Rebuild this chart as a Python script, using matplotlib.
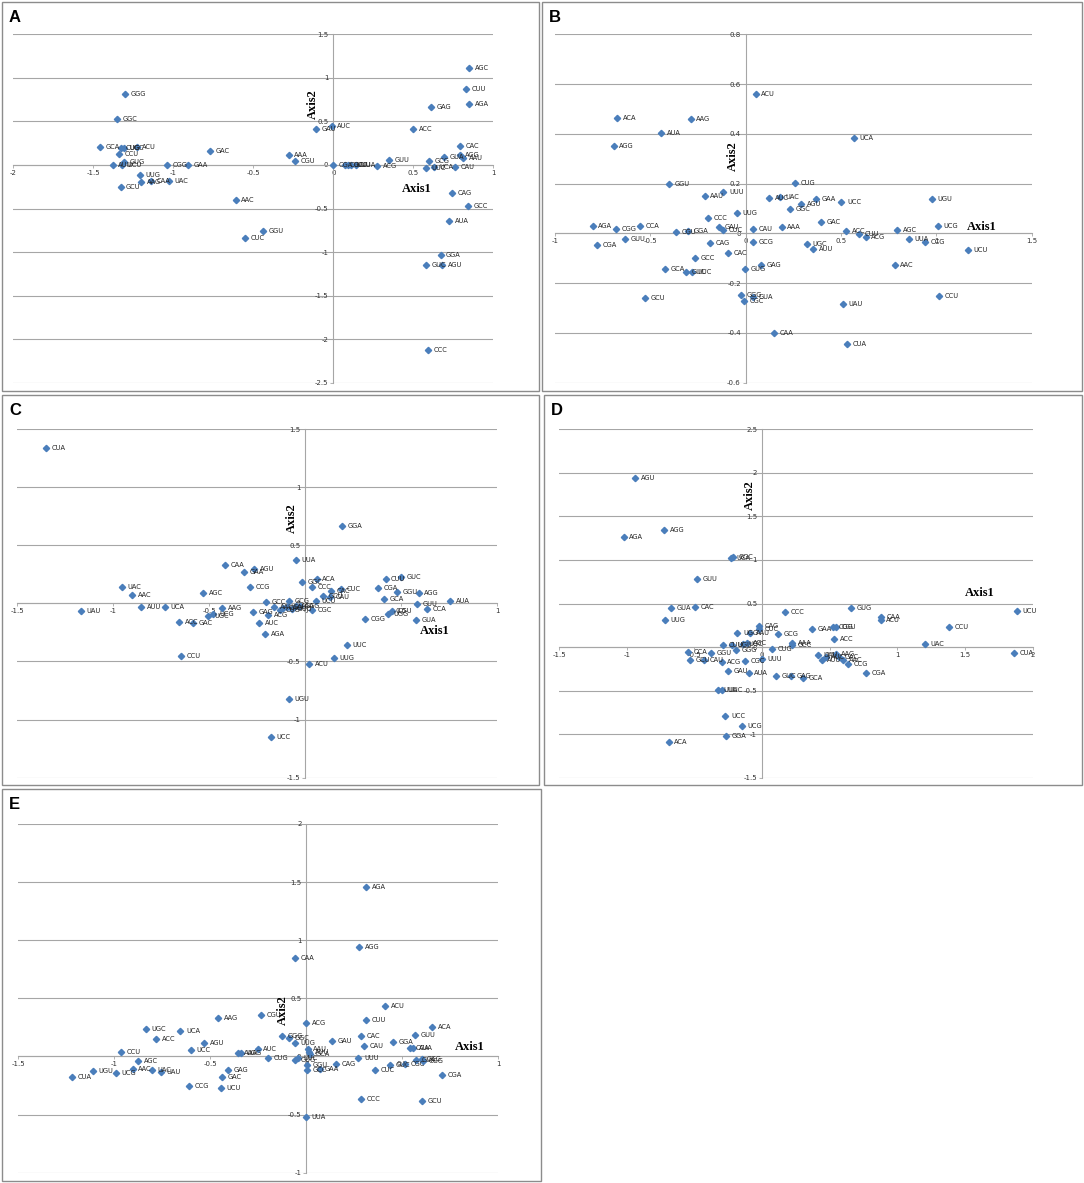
import matplotlib
matplotlib.use('Agg')
import matplotlib.pyplot as plt
from matplotlib.patches import Rectangle
from matplotlib.ticker import MultipleLocator, FuncFormatter

# panel A
a_codons = ['GGG', 'GGC', 'GCA', 'CUG', 'UGC', 'ACU', 'CCU', 'GUG', 'AUU', 'UCU', 'UUG', 'GCU',
            'AAG', 'CAA', 'UAC', 'CGG', 'GAA', 'GAC', 'AAC', 'GGU', 'CUC', 'AAA', 'CGU', 'GAU',
            'AUC', 'CGA', 'CGC', 'UCC', 'UUU', 'UUA', 'ACG', 'GUU', 'ACC', 'GAG', 'GCG', 'UUC',
            'UCA', 'GUA', 'CAU', 'CAC', 'AGG', 'AAU', 'AGC', 'CUU', 'AGA', 'CAG', 'GCC', 'AUA',
            'GGA', 'GUC', 'AGU', 'CCC']
a_x = [-1.30, -1.35, -1.46, -1.33, -1.31, -1.23, -1.34, -1.31, -1.38, -1.32, -1.21, -1.33,
       -1.20, -1.14, -1.03, -1.04, -0.91, -0.77, -0.61, -0.44, -0.55, -0.28, -0.24, -0.11,
       -0.01, 0.00, 0.07, 0.09, 0.11, 0.14, 0.275, 0.35, 0.50, 0.61, 0.60, 0.58,
       0.63, 0.69, 0.76, 0.79, 0.79, 0.81, 0.85, 0.83, 0.85, 0.74, 0.84, 0.725,
       0.67, 0.58, 0.68, 0.59]
a_y = [0.82, 0.53, 0.21, 0.19, 0.19, 0.21, 0.13, 0.03, 0.00, 0.00, -0.11, -0.25,
       -0.20, -0.19, -0.19, 0.00, 0.00, 0.16, -0.40, -0.76, -0.84, 0.11, 0.04, 0.41,
       0.45, 0.00, 0.00, 0.00, 0.00, 0.00, -0.01, 0.06, 0.41, 0.66, 0.05, -0.04,
       -0.02, 0.09, -0.02, 0.22, 0.11, 0.08, 1.11, 0.87, 0.70, -0.32, -0.47, -0.64,
       -1.03, -1.15, -1.15, -2.13]

# panel B
b_codons = ['ACU', 'ACA', 'AAG', 'AUA', 'AGG', 'GGU', 'UUU', 'AAU', 'UUG', 'CCC', 'AGA', 'CGG',
            'CCA', 'GUU', 'CGA', 'CGU', 'GGA', 'GAU', 'CUC', 'CAU', 'CAG', 'GCG', 'CAC', 'GCC',
            'GAG', 'GUG', 'GCA', 'GUC', 'UUC', 'GCU', 'GGG', 'CGC', 'GUA', 'CAA', 'AUC', 'UAC',
            'CUG', 'GGC', 'AGU', 'GAA', 'AAA', 'GAC', 'UCA', 'UCC', 'UGU', 'ACC', 'CUU', 'ACG',
            'AGC', 'UUA', 'CCG', 'UCG', 'UCU', 'UGC', 'AUU', 'AAC', 'CCU', 'UAU', 'CUA']
b_x = [0.052, -0.675, -0.288, -0.442, -0.692, -0.404, -0.117, -0.215, -0.044, -0.199, -0.802, -0.682,
       -0.554, -0.635, -0.781, -0.367, -0.302, -0.138, -0.117, 0.037, -0.185, 0.037, -0.091, -0.266,
       0.079, -0.003, -0.425, -0.313, -0.283, -0.530, -0.024, -0.009, 0.040, 0.150, 0.122, 0.180,
       0.259, 0.233, 0.290, 0.369, 0.189, 0.393, 0.568, 0.502, 0.975, 0.526, 0.596, 0.629,
       0.795, 0.857, 0.939, 1.007, 1.164, 0.320, 0.355, 0.781, 1.016, 0.509, 0.531]
b_y = [0.559, 0.465, 0.458, 0.402, 0.352, 0.197, 0.168, 0.150, 0.083, 0.060, 0.029, 0.017,
       0.029, -0.021, -0.047, 0.004, 0.009, 0.027, 0.013, 0.016, -0.040, -0.036, -0.078, -0.100,
       -0.127, -0.145, -0.145, -0.154, -0.154, -0.259, -0.248, -0.271, -0.255, -0.402, 0.141, 0.147,
       0.204, 0.098, 0.117, 0.137, 0.027, 0.047, 0.382, 0.127, 0.140, 0.009, -0.004, -0.016,
       0.013, -0.024, -0.036, 0.030, -0.067, -0.044, -0.064, -0.129, -0.250, -0.282, -0.443]

# panel C
c_codons = ['CUA', 'UAC', 'AAC', 'UAU', 'AUU', 'UCA', 'AGC', 'CAA', 'GAA', 'AGU', 'CCG', 'AAG',
            'ACC', 'GAC', 'UGC', 'UCG', 'CCU', 'GAG', 'AUC', 'AGA', 'GCC', 'UGU', 'UCC', 'ACG',
            'UUA', 'GGC', 'ACA', 'CCC', 'GCU', 'CAU', 'CAC', 'CUC', 'CGA', 'CUU', 'GUC', 'GCA',
            'GGU', 'AGG', 'GUU', 'AUA', 'CCA', 'GUA', 'CGG', 'UGG', 'CGU', 'UUC', 'UUG', 'ACU',
            'CGC', 'GCG', 'GGA', 'AAU', 'CAG', 'GAU', 'UUU', 'AAA', 'GGG', 'CUG', 'UCU']
c_x = [-1.351, -0.957, -0.901, -1.168, -0.854, -0.733, -0.533, -0.420, -0.319, -0.267, -0.286, -0.434,
       -0.658, -0.587, -0.505, -0.479, -0.649, -0.271, -0.240, -0.210, -0.203, -0.085, -0.177, -0.193,
       -0.050, -0.017, 0.059, 0.036, 0.094, 0.127, 0.132, 0.184, 0.380, 0.418, 0.497, 0.410,
       0.476, 0.590, 0.583, 0.755, 0.632, 0.578, 0.309, 0.429, 0.453, 0.217, 0.151, 0.021,
       0.035, -0.085, 0.190, -0.161, -0.115, -0.097, -0.070, -0.050, -0.030, -0.130, 0.054]
c_y = [1.335, 0.140, 0.074, -0.066, -0.029, -0.034, 0.089, 0.330, 0.272, 0.298, 0.143, -0.040,
       -0.158, -0.169, -0.112, -0.092, -0.456, -0.077, -0.169, -0.261, 0.009, -0.822, -1.146, -0.097,
       0.369, 0.180, 0.206, 0.137, 0.066, 0.051, 0.106, 0.120, 0.129, 0.206, 0.229, 0.034,
       0.100, 0.086, -0.006, 0.023, -0.051, -0.143, -0.137, -0.090, -0.066, -0.360, -0.471, -0.523,
       -0.057, 0.023, 0.667, -0.034, -0.036, -0.030, -0.045, -0.025, -0.020, -0.060, 0.020]

# panel D
d_codons = ['AGU', 'AGG', 'AGA', 'UCA', 'GGC', 'GUU', 'GUA', 'CAC', 'UUG', 'CCC', 'ACA', 'GGA',
            'UCG', 'UCC', 'UUA', 'UUC', 'GAU', 'AUA', 'GUG', 'CAA', 'ACU', 'CAG', 'UGG', 'AAU',
            'CUC', 'GAA', 'CGG', 'CGU', 'GCG', 'ACC', 'AAA', 'GCC', 'UAC', 'CUG', 'CUU', 'UGU',
            'GGG', 'UGC', 'AGC', 'CCA', 'GGU', 'GCU', 'CAU', 'ACG', 'CGC', 'UUU', 'GUC', 'GAG',
            'GCA', 'UAU', 'AUU', 'AUC', 'AAG', 'GAC', 'AAC', 'CCG', 'CGA', 'UCU', 'CCU', 'CUA']
d_x = [-0.938, -0.722, -1.022, -0.232, -0.214, -0.480, -0.672, -0.493, -0.719, 0.167, -0.690, -0.268,
       -0.150, -0.271, -0.325, -0.293, -0.251, -0.099, 0.660, 0.877, 0.877, -0.022, -0.182, -0.089,
       -0.022, 0.367, 0.527, 0.549, 0.118, 0.532, 0.224, 0.224, 1.204, 0.071, -0.288, -0.224,
       -0.195, -0.140, -0.108, -0.544, -0.379, -0.534, -0.429, -0.298, -0.126, 0.002, 0.101, 0.212,
       0.305, 0.414, 0.440, 0.470, 0.544, 0.568, 0.598, 0.638, 0.771, 1.885, 1.380, 1.860]
d_y = [1.937, 1.343, 1.259, 1.017, 1.029, 0.776, 0.454, 0.458, 0.308, 0.400, -1.090, -1.017,
       -0.906, -0.791, -0.496, -0.496, -0.270, -0.297, 0.454, 0.346, 0.315, 0.242, 0.162, 0.162,
       0.210, 0.204, 0.231, 0.231, 0.146, 0.096, 0.046, 0.027, 0.031, -0.027, 0.027, 0.027,
       -0.031, 0.031, 0.046, -0.058, -0.065, -0.146, -0.146, -0.173, -0.162, -0.135, -0.335, -0.327,
       -0.358, -0.088, -0.146, -0.115, -0.077, -0.115, -0.154, -0.200, -0.296, 0.410, 0.230, -0.070]

# panel E
e_codons = ['CAA', 'AAG', 'CGU', 'UGC', 'UCA', 'ACC', 'AGU', 'CCU', 'UCC', 'AGC', 'UGU', 'CUA',
            'UCG', 'AAC', 'UAC', 'UAU', 'GAG', 'GAC', 'CCG', 'UCU', 'AAA', 'UGG', 'AUC', 'CUG',
            'GGG', 'GGC', 'UUG', 'ACG', 'UUA', 'AGA', 'AGG', 'ACU', 'CUU', 'ACA', 'GUU', 'CAC',
            'GAU', 'CAU', 'GGA', 'CCA', 'AUA', 'UUU', 'CAG', 'GAA', 'GGU', 'GCC', 'CUC', 'GUC',
            'CGC', 'GUA', 'GCG', 'CGG', 'CGA', 'CCC', 'GCU', 'AAU', 'AUU', 'GCA', 'GUG', 'UUC']
e_x = [-0.059, -0.458, -0.236, -0.837, -0.656, -0.783, -0.533, -0.965, -0.601, -0.875, -1.111, -1.219,
       -0.991, -0.905, -0.806, -0.759, -0.410, -0.441, -0.613, -0.444, -0.356, -0.342, -0.253, -0.201,
       -0.128, -0.092, -0.061, -0.002, -0.003, 0.311, 0.276, 0.410, 0.309, 0.656, 0.566, 0.283,
       0.132, 0.300, 0.451, 0.540, 0.557, 0.271, 0.153, 0.069, 0.005, 0.005, 0.356, 0.434,
       0.512, 0.573, 0.600, 0.610, 0.705, 0.283, 0.604, 0.007, 0.015, 0.020, -0.059, -0.045]
e_y = [0.843, 0.333, 0.353, 0.238, 0.221, 0.149, 0.112, 0.040, 0.054, -0.040, -0.126, -0.175,
       -0.141, -0.109, -0.118, -0.132, -0.118, -0.175, -0.255, -0.275, 0.034, 0.029, 0.060, -0.017,
       0.175, 0.163, 0.118, 0.290, -0.519, 1.457, 0.940, 0.432, 0.312, 0.256, 0.185, 0.176,
       0.136, 0.094, 0.122, 0.074, 0.071, -0.011, -0.063, -0.111, -0.077, -0.119, -0.119, -0.077,
       -0.068, -0.028, -0.020, -0.040, -0.162, -0.369, -0.384, 0.060, 0.040, 0.020, -0.034, -0.010]

W, H = 1084, 1183
GRID = '#a6a6a6'
BLUE = '#4a7ebb'

fig = plt.figure(figsize=(W / 100, H / 100), dpi=100)


def box(x0, y0, x1, y1):
    fig.patches.append(Rectangle((x0 / W, 1 - y1 / H), (x1 - x0) / W, (y1 - y0) / H,
                                 transform=fig.transFigure, fill=False,
                                 edgecolor='#8c8c8c', lw=1))


def panel(letter, frame, area, codons, xs, ys, xlim, ylim, ystep, ax1_pos, ax2_pos):
    box(*frame)
    fig.text((frame[0] + 7) / W, 1 - (frame[1] + 8) / H, letter, fontsize=12,
             fontweight='bold', family='Liberation Sans', ha='left', va='top')
    x0, x1, ytop, ybot = area
    ax = fig.add_axes([x0 / W, 1 - ybot / H, (x1 - x0) / W, (ybot - ytop) / H])
    ax.set_xlim(*xlim)
    ax.set_ylim(*ylim)
    ax.patch.set_alpha(0)
    for s in ['top', 'right']:
        ax.spines[s].set_visible(False)
    for s in ['left', 'bottom']:
        ax.spines[s].set_position(('data', 0))
        ax.spines[s].set_color(GRID)
        ax.spines[s].set_linewidth(0.8)
    ax.xaxis.set_major_locator(MultipleLocator(0.5))
    ax.yaxis.set_major_locator(MultipleLocator(ystep))
    fmt = FuncFormatter(lambda v, p: '%g' % round(v, 2))
    ax.xaxis.set_major_formatter(fmt)
    ax.yaxis.set_major_formatter(fmt)
    ax.tick_params(direction='out', length=2.5, width=0.6, color=GRID, pad=1,
                   labelsize=5, labelcolor='#333333')
    ax.yaxis.grid(True, color=GRID, lw=0.8)
    ax.set_axisbelow(True)
    ax.plot(xs, ys, 'D', color=BLUE, markersize=3.2, clip_on=False, zorder=3)
    for lab, x, y in zip(codons, xs, ys):
        ax.annotate(lab, (x, y), xytext=(4, 0), textcoords='offset points',
                    fontsize=4.8, va='center', ha='left', color='#222222', zorder=4)
    ax.text(ax1_pos[0], ax1_pos[1], 'Axis1', family='Liberation Serif', fontweight='bold',
            fontsize=9, ha='center', va='center')
    ax.text(ax2_pos[0], ax2_pos[1], 'Axis2', family='Liberation Serif', fontweight='bold',
            fontsize=9, ha='center', va='center', rotation=90)
    return ax


panel('A', (2, 2, 539, 391), (13.3, 493.3, 34.3, 382.7), a_codons, a_x, a_y,
      (-2, 1), (-2.5, 1.5), 0.5, (0.52, -0.28), (-0.125, 0.70))
panel('B', (542, 2, 1082, 391), (555, 1031.7, 34.3, 382.7), b_codons, b_x, b_y,
      (-1, 1.5), (-0.6, 0.8), 0.2, (1.24, 0.027), (-0.065, 0.31))
panel('C', (2, 395, 539, 785), (17.3, 497.3, 429, 777.7), c_codons, c_x, c_y,
      (-1.5, 1), (-1.5, 1.5), 0.5, (0.675, -0.24), (-0.07, 0.73))
panel('D', (544, 395, 1082, 785), (559, 1032.7, 429.3, 777.7), d_codons, d_x, d_y,
      (-1.5, 2), (-1.5, 2.5), 0.5, (1.61, 0.62), (-0.09, 1.745))
panel('E', (2, 789, 541, 1181), (18.3, 498.3, 824, 1172.7), e_codons, e_x, e_y,
      (-1.5, 1), (-1, 2), 0.5, (0.85, 0.08), (-0.12, 0.40))

fig.savefig('out.png', dpi=100)
